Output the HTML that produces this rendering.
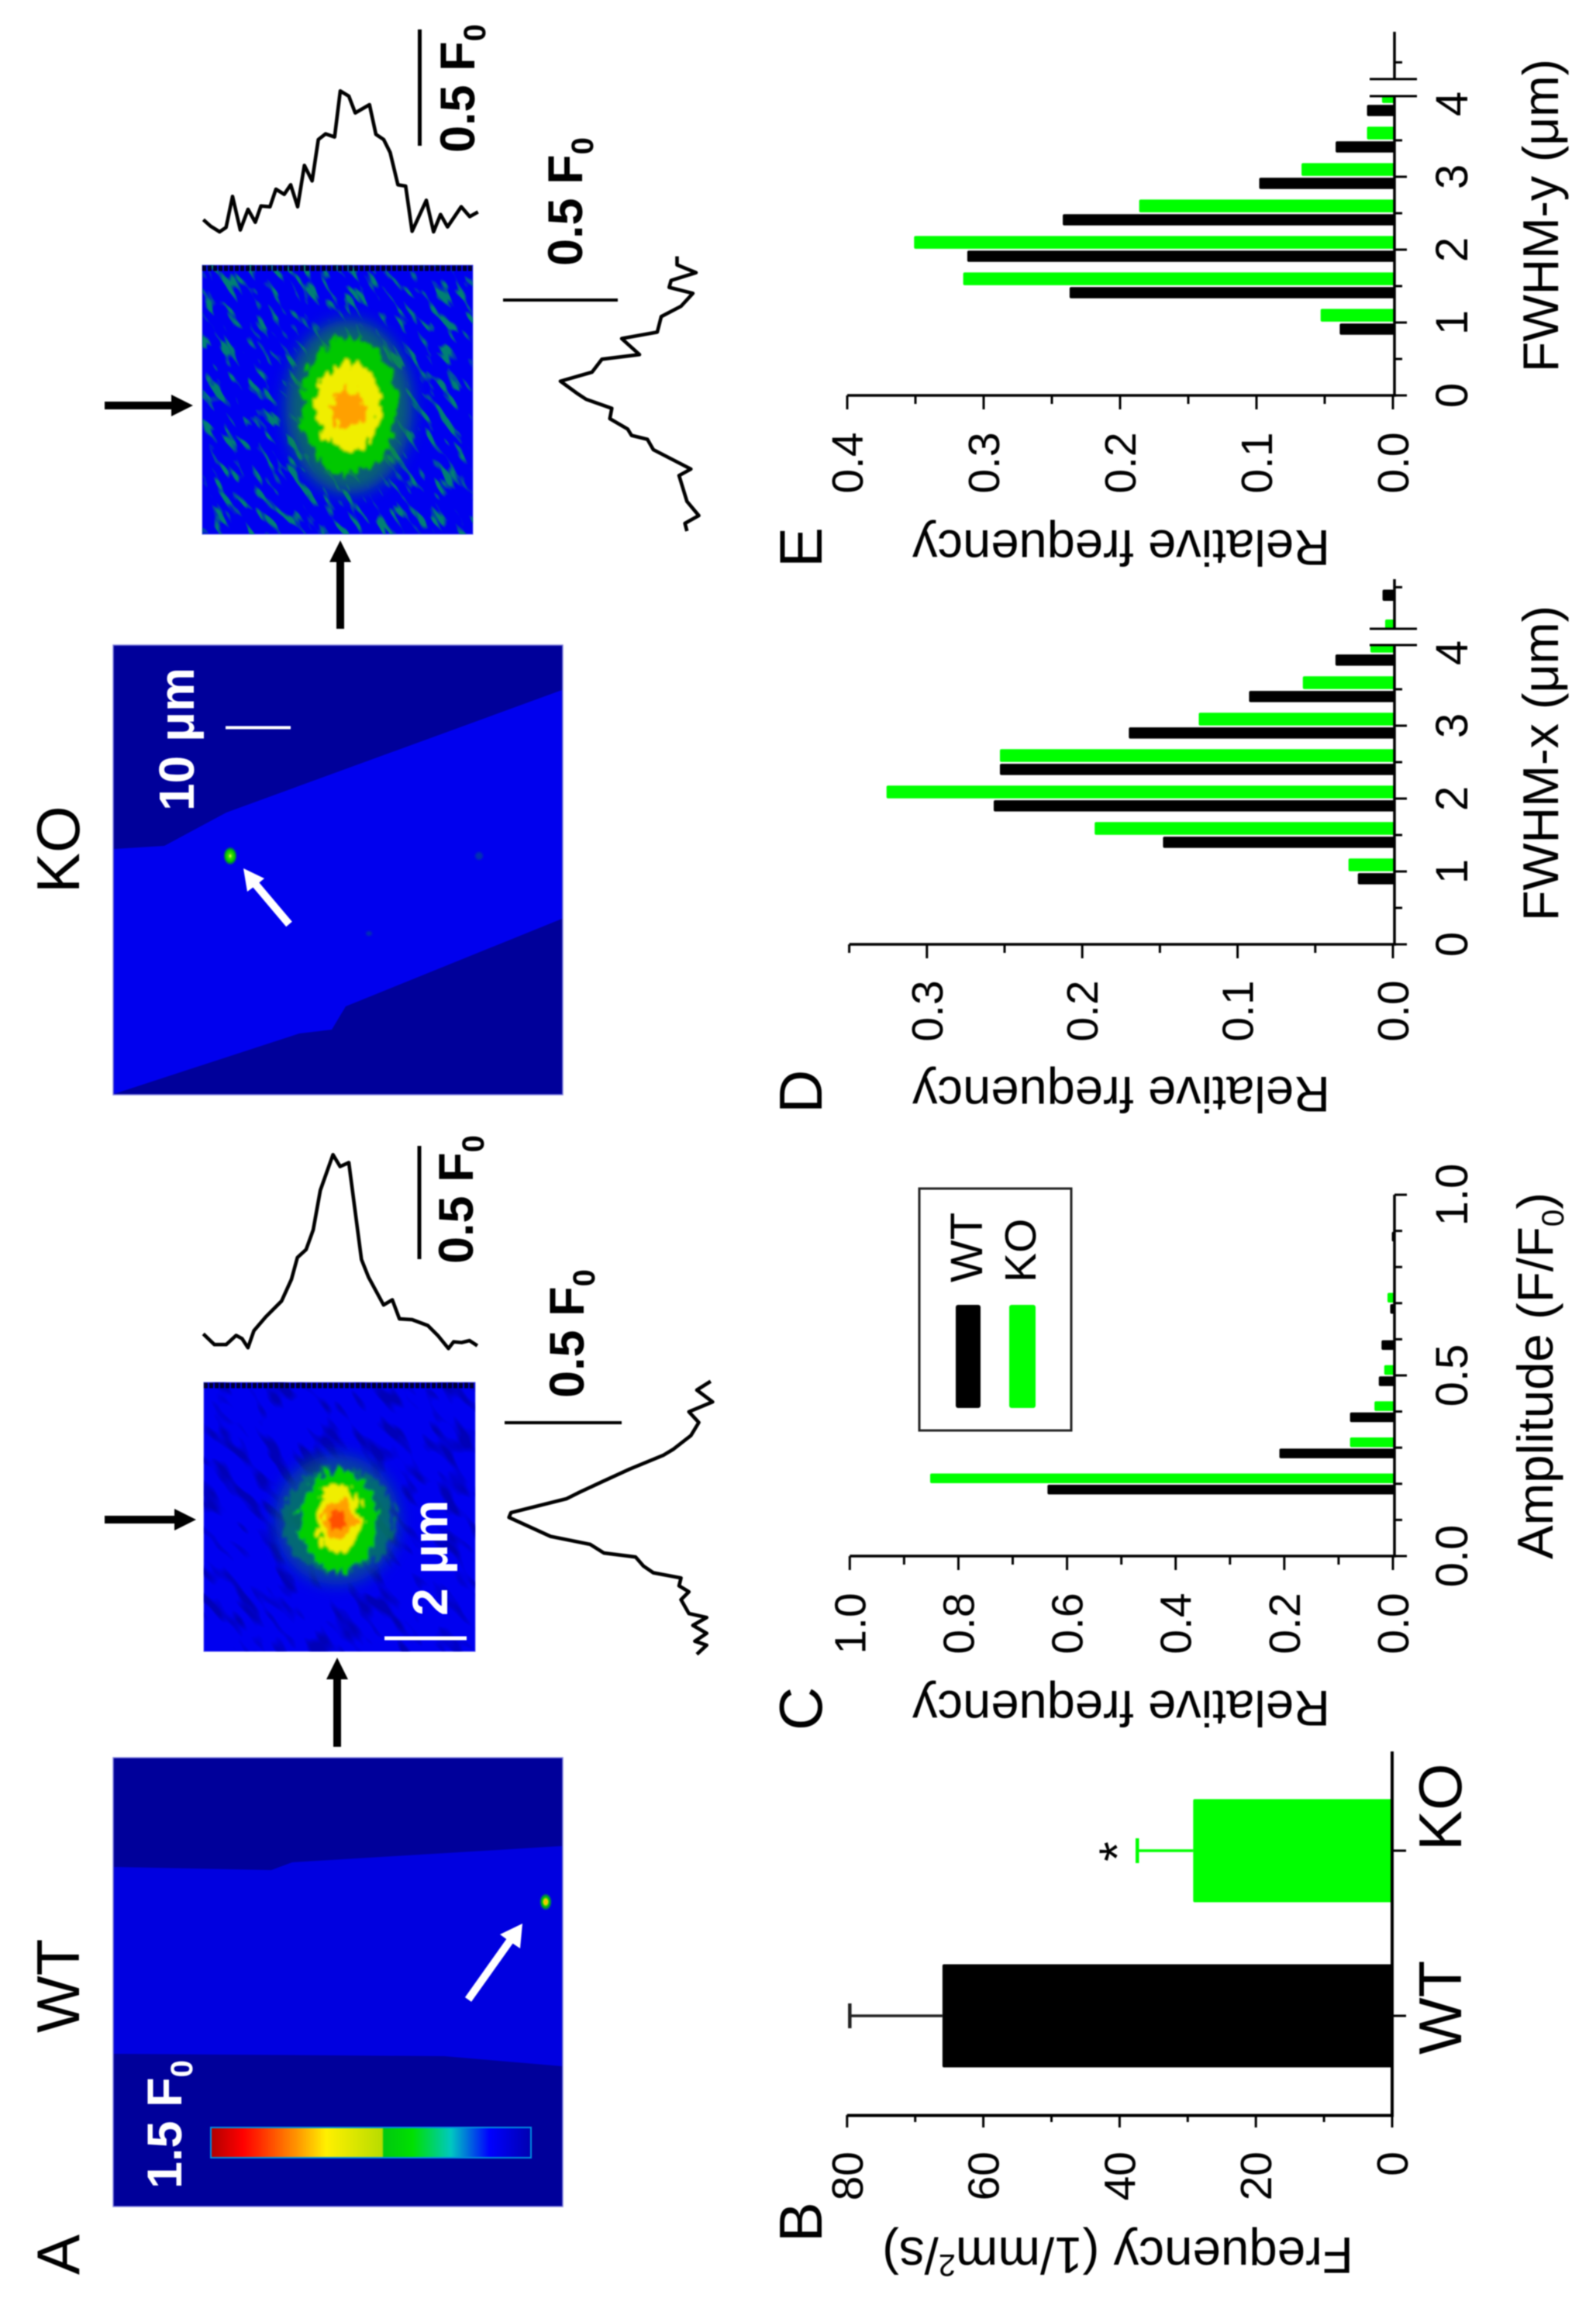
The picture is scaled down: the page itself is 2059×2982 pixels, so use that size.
<!DOCTYPE html>
<html lang="en">
<head>
<meta charset="utf-8">
<title>Sparks in WT and KO cells</title>
<style>
html,body{margin:0;padding:0;background:#fff}
svg{display:block;filter:blur(0.7px)}
text{font-family:"Liberation Sans",Arial,sans-serif;fill:#000}
</style>
</head>
<body>
<svg id="figure" xmlns="http://www.w3.org/2000/svg" width="2059" height="2982" viewBox="0 0 2059 2982">
<defs>
<clipPath id="clip-wt-small"><rect x="263" y="1783" width="350" height="347"/></clipPath>
<clipPath id="clip-ko-small"><rect x="261" y="342" width="349" height="347"/></clipPath>
<filter id="streaks-teal" x="0" y="0" width="100%" height="100%" color-interpolation-filters="sRGB">
<feTurbulence type="fractalNoise" baseFrequency="0.1 0.03" numOctaves="2" seed="5"/>
<feColorMatrix values="0 0 0 0 0  0 0 0 0 0.5  0 0 0 0 0.45  6 0 0 0 -3.3"/>
</filter>
<filter id="streaks-dark" x="0" y="0" width="100%" height="100%" color-interpolation-filters="sRGB">
<feTurbulence type="fractalNoise" baseFrequency="0.06 0.02" numOctaves="2" seed="8"/>
<feColorMatrix values="0 0 0 0 0  0 0 0 0 0  0 0 0 0 0.72  5 0 0 0 -2.6"/>
</filter>
<filter id="jagged" x="-30%" y="-30%" width="160%" height="160%">
<feTurbulence type="fractalNoise" baseFrequency="0.12 0.07" numOctaves="2" seed="11" result="n"/>
<feDisplacementMap in="SourceGraphic" in2="n" scale="26" xChannelSelector="R" yChannelSelector="G"/>
<feGaussianBlur stdDeviation="1.6"/>
</filter>
<filter id="haze" x="-40%" y="-40%" width="180%" height="180%">
<feGaussianBlur stdDeviation="10"/>
</filter>
<filter id="soft" x="-60%" y="-60%" width="220%" height="220%">
<feGaussianBlur stdDeviation="1.2"/>
</filter>
<linearGradient id="colormap" x1="0" x2="1" y1="0" y2="0">
<stop offset="0" stop-color="#b00000"/>
<stop offset="0.1" stop-color="#ff0000"/>
<stop offset="0.14" stop-color="#ff2000"/>
<stop offset="0.28" stop-color="#ffa000"/>
<stop offset="0.36" stop-color="#fff000"/>
<stop offset="0.535" stop-color="#b8dc00"/>
<stop offset="0.54" stop-color="#00c810"/>
<stop offset="0.63" stop-color="#00e000"/>
<stop offset="0.75" stop-color="#00c8c0"/>
<stop offset="0.87" stop-color="#0000ff"/>
<stop offset="1" stop-color="#0000b0"/>
</linearGradient>
<radialGradient id="spot-wt">
<stop offset="0" stop-color="#ffb000"/>
<stop offset="0.3" stop-color="#e8d800"/>
<stop offset="0.55" stop-color="#00c800"/>
<stop offset="0.8" stop-color="#007060"/>
<stop offset="1" stop-color="#0000e6"/>
</radialGradient>
<radialGradient id="spot-ko">
<stop offset="0" stop-color="#f0ff40"/>
<stop offset="0.25" stop-color="#40e000"/>
<stop offset="0.65" stop-color="#00c000"/>
<stop offset="1" stop-color="#0000e6"/>
</radialGradient>
</defs>

<!-- Panel A: WT wide image -->
<g>
<rect x="146" y="2267" width="580" height="579" fill="#00009a" stroke="#8a8ae0" stroke-width="1.5"/>
<polygon fill="#0000e0" points="147,2408 350,2412 377,2402 725,2381 725,2665 573,2652 147,2649"/>
<ellipse cx="704" cy="2453" rx="8" ry="11" fill="url(#spot-wt)"/>
<line x1="604" y1="2579" x2="658" y2="2503" stroke="#fff" stroke-width="10"/>
<polygon fill="#fff" points="674,2481 645,2495 656,2503 671,2513"/>
<rect x="272" y="2744" width="413" height="39" fill="url(#colormap)" stroke="#0090e0" stroke-width="2"/>
<text transform="translate(234,2823) rotate(-90)" font-size="63" font-weight="bold" style="fill:#fff">1.5 F<tspan font-size="40" dy="14">0</tspan></text>
</g>

<!-- Panel A: KO wide image -->
<g>
<rect x="146" y="832" width="580" height="580" fill="#00009a" stroke="#8a8ae0" stroke-width="1.5"/>
<polygon fill="#0000ee" points="147,1095 212,1091 292,1048 725,890 725,1185 446,1298 428,1328 386,1333 147,1411"/>
<ellipse cx="618" cy="1104" rx="5" ry="5" fill="#0030b0" filter="url(#soft)"/>
<ellipse cx="476" cy="1204" rx="4" ry="3" fill="#0030b0" filter="url(#soft)"/>
<ellipse cx="297" cy="1104" rx="9" ry="12" fill="url(#spot-ko)"/>
<line x1="373" y1="1192" x2="330" y2="1141" stroke="#fff" stroke-width="10"/>
<polygon fill="#fff" points="314,1120 341,1133 330,1142 319,1150"/>
<line x1="291" y1="938.5" x2="375" y2="938.5" stroke="#fff" stroke-width="4"/>
<text transform="translate(250,1046) rotate(-90)" font-size="64" font-weight="bold" style="fill:#fff">10 μm</text>
</g>

<!-- Zoomed spark WT -->
<g>
<rect x="263" y="1783" width="350" height="347" fill="#0000f0" stroke="#5a5af0" stroke-width="1"/>
<g clip-path="url(#clip-wt-small)">
<g transform="rotate(-40 438 1956)"><rect x="100" y="1600" width="680" height="720" filter="url(#streaks-dark)"/></g>
<ellipse cx="435" cy="1960" rx="80" ry="84" fill="#0a7a60" opacity="0.55" filter="url(#haze)"/>
<g filter="url(#jagged)">
<ellipse cx="437" cy="1961" rx="72" ry="68" fill="#0a8a50" opacity="0.55"/>
<ellipse cx="437" cy="1961" rx="50" ry="66" fill="#00d000"/>
<ellipse cx="437" cy="1959" rx="28" ry="44" fill="#f0ee00"/>
<ellipse cx="437" cy="1959" rx="20" ry="26" fill="#ffa000"/>
<ellipse cx="437" cy="1961" rx="10" ry="12" fill="#ff5000"/>
</g>
</g>
<line x1="263" y1="1787" x2="613" y2="1787" stroke="#000032" stroke-width="7" stroke-dasharray="5 2"/>
<line x1="496" y1="2113" x2="602" y2="2113" stroke="#fff" stroke-width="5"/>
<text transform="translate(577,2084) rotate(-90)" font-size="64" font-weight="bold" style="fill:#fff">2 μm</text>
</g>

<!-- Zoomed spark KO -->
<g>
<rect x="261" y="342" width="349" height="347" fill="#0000f0" stroke="#5a5af0" stroke-width="1"/>
<g clip-path="url(#clip-ko-small)">
<g transform="rotate(-35 435 515)"><rect x="60" y="140" width="760" height="760" filter="url(#streaks-teal)"/></g>
<ellipse cx="450" cy="525" rx="82" ry="112" fill="#0a8a40" opacity="0.7" filter="url(#haze)"/>
<g filter="url(#jagged)">
<ellipse cx="450" cy="524" rx="62" ry="88" fill="#00c800"/>
<ellipse cx="450" cy="524" rx="42" ry="56" fill="#f0ee00"/>
<ellipse cx="450" cy="528" rx="22" ry="24" fill="#ffa000"/>
</g>
</g>
<line x1="261" y1="346" x2="610" y2="346" stroke="#000032" stroke-width="7" stroke-dasharray="5 2"/>
</g>

<!-- Black flow arrows -->
<g>
<line x1="435" y1="2160" x2="435" y2="2253" stroke="#000" stroke-width="10"/>
<polygon points="435,2138 421,2166 449,2166"/>
<line x1="135" y1="1960" x2="230" y2="1960" stroke="#000" stroke-width="10"/>
<polygon points="253,1960 225,1946 225,1974"/>
<line x1="439" y1="720" x2="439" y2="811" stroke="#000" stroke-width="10"/>
<polygon points="439,697 425,725 453,725"/>
<line x1="135" y1="523" x2="226" y2="523" stroke="#000" stroke-width="10"/>
<polygon points="249,523 221,509 221,537"/>
</g>

<!-- Profile traces, scale bars -->
<g id="traces"></g>
<g>
<line x1="541" y1="1478" x2="541" y2="1624" stroke="#000" stroke-width="5"/>
<text transform="translate(610,1630) rotate(-90)" font-size="63" font-weight="bold">0.5 F<tspan font-size="40" dy="14">0</tspan></text>
<line x1="651" y1="1835" x2="802" y2="1835" stroke="#000" stroke-width="4"/>
<text transform="translate(753,1803) rotate(-90)" font-size="63" font-weight="bold">0.5 F<tspan font-size="40" dy="14">0</tspan></text>
<line x1="541.5" y1="38" x2="541.5" y2="188" stroke="#000" stroke-width="5"/>
<text transform="translate(612,197) rotate(-90)" font-size="63" font-weight="bold">0.5 F<tspan font-size="40" dy="14">0</tspan></text>
<line x1="649" y1="387" x2="797" y2="387" stroke="#000" stroke-width="4"/>
<text transform="translate(751,343) rotate(-90)" font-size="63" font-weight="bold">0.5 F<tspan font-size="40" dy="14">0</tspan></text>
</g>

<!-- Letters and group titles -->
<g>
<text transform="translate(102,2934) rotate(-90)" font-size="78">A</text>
<text transform="translate(102,2622) rotate(-90)" font-size="78">WT</text>
<text transform="translate(102,1152) rotate(-90)" font-size="78">KO</text>
<text transform="translate(1060,2892) rotate(-90)" font-size="78">B</text>
<text transform="translate(1060,2232) rotate(-90)" font-size="78">C</text>
<text transform="translate(1060,1436) rotate(-90)" font-size="78">D</text>
<text transform="translate(1060,732) rotate(-90)" font-size="78">E</text>
</g>

<!-- Axis titles -->
<g>
<text transform="translate(1746,2886) rotate(180)" font-size="66" textLength="608" lengthAdjust="spacingAndGlyphs">Frequency (1/mm<tspan font-size="40" dy="-22">2</tspan><tspan dy="22">/s)</tspan></text>
<text transform="translate(1716,2181) rotate(180)" font-size="65" textLength="539" lengthAdjust="spacingAndGlyphs">Relative frequency</text>
<text transform="translate(1716,1389) rotate(180)" font-size="65" textLength="539" lengthAdjust="spacingAndGlyphs">Relative frequency</text>
<text transform="translate(1716,684) rotate(180)" font-size="65" textLength="539" lengthAdjust="spacingAndGlyphs">Relative frequency</text>
<text transform="translate(2003,2011) rotate(-90)" font-size="65" textLength="473" lengthAdjust="spacingAndGlyphs">Amplitude (F/F<tspan font-size="40" dy="14">0</tspan><tspan dy="-14">)</tspan></text>
<text transform="translate(2010,1188) rotate(-90)" font-size="65" textLength="407" lengthAdjust="spacingAndGlyphs">FWHM-x (μm)</text>
<text transform="translate(2010,480) rotate(-90)" font-size="65" textLength="404" lengthAdjust="spacingAndGlyphs">FWHM-y (μm)</text>
</g>

<g id="chart-b"></g>
<g id="chart-c"></g>
<g id="chart-d"></g>
<g id="chart-e"></g>

<g>
<rect x="1186" y="1533" width="196" height="312" fill="#fff" stroke="#222" stroke-width="3"/>
<rect x="1233" y="1683" width="32" height="133" rx="3" fill="#000"/>
<rect x="1302" y="1683" width="34" height="133" rx="3" fill="#00ff00"/>
<text transform="translate(1267,1654) rotate(-90)" font-size="58">WT</text>
<text transform="translate(1336,1654) rotate(-90)" font-size="57">KO</text>
</g>
</svg>

<script>
/* Panel B: frequency */
const bCategories = ['WT', 'KO'];
const bValues = [66, 29.2];
const bErrors = [13.6, 8.2];
const bValueTicks = [0, 20, 40, 60, 80];
const bMinorTicks = [10, 30, 50, 70];

/* Panel C: amplitude histogram */
const cBins = [0.2, 0.3, 0.4, 0.5, 0.6, 0.7, 0.9];
const cWT = [0.636, 0.209, 0.079, 0.026, 0.021, 0.005, 0.002];
const cKO = [0.852, 0.079, 0.034, 0.016, 0, 0.01, 0];
const cValueTicks = ['0.0', '0.2', '0.4', '0.6', '0.8', '1.0'];
const cValueMinor = [0.1, 0.3, 0.5, 0.7, 0.9];
const cCatTicks = ['0.0', '0.5', '1.0'];
const cCatMinor = [0.1, 0.2, 0.3, 0.4, 0.6, 0.7, 0.8, 0.9];

/* Panel D: FWHM-x histogram */
const dBins = [1, 1.5, 2, 2.5, 3, 3.5, 4, 4.28, 4.89];
const dWT = [0.0226, 0.148, 0.257, 0.253, 0.170, 0.0926, 0.037, 0, 0.0067];
const dKO = [0.0286, 0.192, 0.326, 0.253, 0.125, 0.058, 0.0145, 0.005, 0];
const dValueTicks = ['0.0', '0.1', '0.2', '0.3'];
const dValueMinor = [0.05, 0.15, 0.25, 0.35];
const dCatTicks = ['0', '1', '2', '3', '4'];
const dCatMinor = [0.5, 1.5, 2.5, 3.5, 4.9];

/* Panel E: FWHM-y histogram */
const eBins = [1, 1.5, 2, 2.5, 3, 3.5, 4];
const eWT = [0.039, 0.237, 0.312, 0.242, 0.098, 0.042, 0.019];
const eKO = [0.053, 0.315, 0.351, 0.186, 0.067, 0.019, 0.008];
const eValueTicks = ['0.0', '0.1', '0.2', '0.3', '0.4'];
const eValueMinor = [0.05, 0.15, 0.25, 0.35];
const eCatTicks = ['0', '1', '2', '3', '4'];
const eCatMinor = [0.5, 1.5, 2.5, 3.5, 4.57];

/* Intensity profiles (scan position, signal) */
const wtTopScan = [122,150,180,205,220,235,250,280,320,345,360,382,400,418,450,468,490,505,522,540,578,600,618,650,690,715,742,755,775,795,815];
const wtTopSignal = [628,655,655,632,640,663,620,585,545,490,435,415,365,265,175,205,195,310,440,485,555,542,590,592,607,632,665,648,650,645,658];
const wtSideScan = [748,770,800,825,852,885,920,935,970,1002,1030,1045,1080,1092,1140,1160,1182,1192,1215,1232,1245,1265,1280,1300,1335,1345,1365,1385,1405,1415,1438];
const wtSideSignal = [1405,1370,1410,1350,1375,1355,1310,1285,1200,1130,1070,1040,900,895,1000,1100,1135,1215,1235,1260,1330,1325,1350,1330,1350,1395,1360,1395,1365,1395,1370];
const koTopScan = [187,215,250,275,300,330,360,388,410,445,468,500,525,552,578,608,632,660,695,717,750,775,830,855,885,910,940,970,995,1050,1078,1105,1132,1185,1218,1250];
const koTopSignal = [850,875,897,880,760,890,810,860,797,800,732,752,715,800,640,700,540,518,530,352,372,437,405,520,540,590,715,720,895,775,897,830,878,800,838,820];
const koSideScan = [92,125,155,185,212,235,285,325,385,410,472,490,540,575,625,645,680,720,760,785,800,840,915,940,990,1040,1095,1125,1155];
const koSideSignal = [1320,1320,1368,1305,1300,1360,1330,1280,1270,1180,1225,1130,1105,1025,1070,1090,1155,1150,1195,1205,1245,1260,1355,1325,1335,1345,1375,1340,1345];

const NS = 'http://www.w3.org/2000/svg';

function addLine(parent, name, x1, y1, x2, y2, w, color) {
  const el = document.createElementNS(NS, 'line');
  
  
  el.setAttribute('x1', x1);
  el.setAttribute('y1', y1);
  el.setAttribute('x2', x2);
  el.setAttribute('y2', y2);
  el.setAttribute('stroke', color || '#000');
  el.setAttribute('stroke-width', w);
  parent.appendChild(el);
  return el;
}

function addBar(parent, name, x, y, w, h, color) {
  const el = document.createElementNS(NS, 'rect');
  
  
  el.setAttribute('x', x);
  el.setAttribute('y', y);
  el.setAttribute('width', Math.max(0, w));
  el.setAttribute('height', h);
  el.setAttribute('rx', 2);
  el.setAttribute('fill', color);
  parent.appendChild(el);
  return el;
}

function addText(parent, name, str, x, y, size, anchor) {
  const el = document.createElementNS(NS, 'text');
  
  
  el.setAttribute('transform', 'translate(' + x + ',' + y + ') rotate(-90)');
  el.setAttribute('font-size', size);
  el.setAttribute('text-anchor', anchor || 'middle');
  el.textContent = str;
  parent.appendChild(el);
  return el;
}

function addTrace(name, xs, ys, fx, fy) {
  const el = document.createElementNS(NS, 'polyline');
  
  
  el.setAttribute('points', xs.map(function (v, i) { return fx(v) + ',' + fy(ys[i]); }).join(' '));
  el.setAttribute('fill', 'none');
  el.setAttribute('stroke', '#000');
  el.setAttribute('stroke-width', 4.6);
  el.setAttribute('stroke-linejoin', 'round');
  document.getElementById('traces').appendChild(el);
}

function scaleX(zero, perUnit) { return function (v) { return zero - v * perUnit; }; }
function scaleY(zero, perUnit) { return function (c) { return zero - c * perUnit; }; }
function localAxis(origin, s) { return function (u) { return origin + u / s; }; }

/* Traces */
addTrace('wt-horizontal-profile', wtTopScan, wtTopSignal, localAxis(200, 1.96), localAxis(1400, 1.96));
addTrace('wt-vertical-profile', wtSideSignal, wtSideScan, localAxis(200, 1.96), localAxis(1400, 1.96));
addTrace('ko-horizontal-profile', koTopScan, koTopSignal, localAxis(200, 3), localAxis(0, 3));
addTrace('ko-vertical-profile', koSideSignal, koSideScan, localAxis(200, 1.96), localAxis(300, 3));

/* Shared histogram panel */
function drawHistogram(id, p, bins, wt, ko, vTicks, vMinor, cTicks, cMinor) {
  const g = document.getElementById(id);
  const xs = scaleX(p.zeroX, p.perValue);
  const ys = scaleY(p.zeroY, p.perCat);
  bins.forEach(function (b, i) {
    if (wt[i] > 0) {
      addBar(g, id + '-bar-wt', xs(wt[i]), ys(b + p.wtOffset) - p.wtThick / 2, xs(0) - xs(wt[i]) + 2, p.wtThick, '#000');
    }
    if (ko[i] > 0) {
      addBar(g, id + '-bar-ko', xs(ko[i]), ys(b + p.koOffset) - p.koThick / 2, xs(0) - xs(ko[i]) + 2, p.koThick, '#00ff00');
    }
  });
  const axisX = p.zeroX + 2;
  addLine(g, id + '-value-axis', xs(p.maxValue), p.zeroY, axisX + 2, p.zeroY, 3.5);
  addLine(g, id + '-category-axis', axisX, p.zeroY, axisX, ys(p.maxCat), 3.5);
  vTicks.forEach(function (t) {
    addLine(g, id + '-value-tick', xs(+t), p.zeroY, xs(+t), p.zeroY + 18, 3);
    addText(g, id + '-value-tick-label', t, xs(+t) + 20, p.valueLabelY, 57);
  });
  vMinor.forEach(function (t) {
    addLine(g, id + '-value-minor-tick', xs(t), p.zeroY, xs(t), p.zeroY + 11, 3);
  });
  cTicks.forEach(function (t) {
    if (!(p.breakTop && +t >= 4)) {
      addLine(g, id + '-category-tick', axisX, ys(+t), axisX + 16, ys(+t), 3);
    }
    addText(g, id + '-category-tick-label', t, 1893, ys(+t), 58);
  });
  cMinor.forEach(function (t) {
    addLine(g, id + '-category-minor-tick', axisX, ys(t), axisX + 10, ys(t), 3);
  });
  if (p.breakTop) {
    const gap = document.createElementNS(NS, 'rect');
    
    
    gap.setAttribute('x', 1760);
    gap.setAttribute('y', p.breakTop);
    gap.setAttribute('width', 70);
    gap.setAttribute('height', p.breakBottom - p.breakTop);
    gap.setAttribute('fill', '#fff');
    g.appendChild(gap);
    addLine(g, id + '-axis-break-top', 1767, p.breakTop, 1828, p.breakTop, 3);
    addLine(g, id + '-axis-break-bottom', 1767, p.breakBottom, 1828, p.breakBottom, 3);
  }
}

drawHistogram('chart-c', {
  zeroX: 1797, perValue: 700.7, zeroY: 2007, perCat: 466, maxValue: 1, maxCat: 1,
  wtOffset: -0.016, koOffset: 0.015, wtThick: 12.5, koThick: 12.5, valueLabelY: 2094
}, cBins, cWT, cKO, cValueTicks, cValueMinor, cCatTicks, cCatMinor);

drawHistogram('chart-d', {
  zeroX: 1797, perValue: 2004, zeroY: 1218, perCat: 94, maxValue: 0.35, maxCat: 5.01,
  wtOffset: -0.10, koOffset: 0.09, wtThick: 14.5, koThick: 16.5, valueLabelY: 1304,
  breakTop: 811, breakBottom: 832
}, dBins, dWT, dKO, dValueTicks, dValueMinor, dCatTicks, dCatMinor);

drawHistogram('chart-e', {
  zeroX: 1797, perValue: 1760, zeroY: 510, perCat: 94, maxValue: 0.4, maxCat: 4.99,
  wtOffset: -0.09, koOffset: 0.10, wtThick: 14.5, koThick: 16.5, valueLabelY: 597,
  breakTop: 102, breakBottom: 124
}, eBins, eWT, eKO, eValueTicks, eValueMinor, eCatTicks, eCatMinor);

/* Panel B */
(function () {
  const g = document.getElementById('chart-b');
  const xs = scaleX(1796, 8.79);
  const ys = scaleY(2600, 213);
  const colors = ['#000', '#00ff00'];
  const errColors = ['#222', '#00ff00'];
  bCategories.forEach(function (c, i) {
    const key = c.toLowerCase();
    addBar(g, 'bar-' + key, xs(bValues[i]), ys(i) - 66.5, xs(0) - xs(bValues[i]), 133, colors[i]);
    addLine(g, 'error-bar-' + key, xs(bValues[i]), ys(i), xs(bValues[i] + bErrors[i]), ys(i), 3.5, errColors[i]);
    addLine(g, 'error-cap-' + key, xs(bValues[i] + bErrors[i]), ys(i) - 16, xs(bValues[i] + bErrors[i]), ys(i) + 16, 4.5, errColors[i]);
    addLine(g, 'category-tick-' + key, 1796, ys(i), 1814, ys(i), 3);
    addText(g, 'category-label-' + key, c, 1885, i === 0 ? 2650 : 2387, 78, 'start');
  });
  addLine(g, 'b-category-axis', 1796, 2259, 1796, 2730, 4);
  addLine(g, 'b-value-axis', xs(80), 2728.5, 1798, 2728.5, 4);
  bValueTicks.forEach(function (t) {
    addLine(g, 'b-value-tick', xs(t), 2728, xs(t), 2744, 3);
    addText(g, 'b-value-tick-label', String(t), xs(t) + 20, 2775, 57, 'end');
  });
  bMinorTicks.forEach(function (t) {
    addLine(g, 'b-value-minor-tick', xs(t), 2728, xs(t), 2737, 3);
  });
  addText(g, 'significance-asterisk', '*', 1464, 2388, 66);
})();
</script>
</body>
</html>
